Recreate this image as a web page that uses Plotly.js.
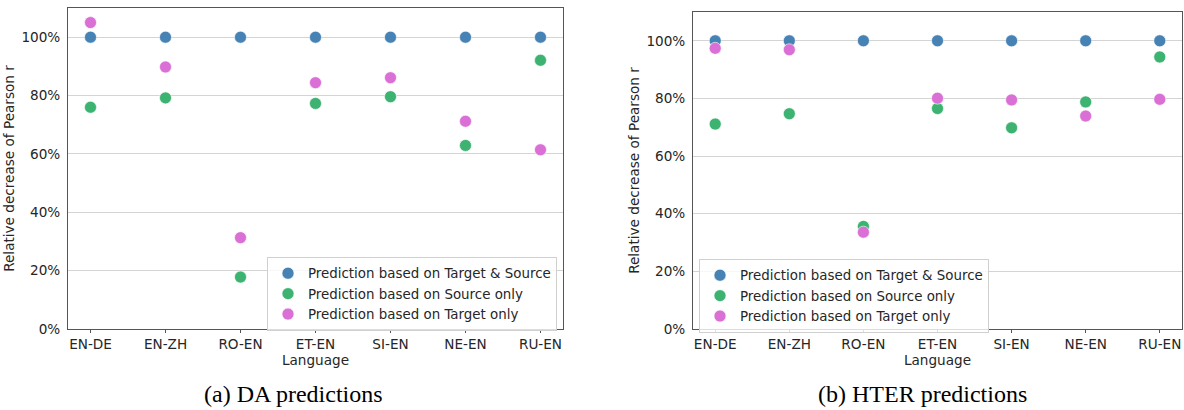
<!DOCTYPE html>
<html>
<head>
<meta charset="utf-8">
<script src="https://cdn.plot.ly/plotly-3.0.1.min.js"></script>
<style>html,body{margin:0;padding:0;background:#fff;}#chart{width:1184px;height:410px;}</style>
</head>
<body>
<div id="chart"></div>
<script>
const languages = ["EN-DE", "EN-ZH", "RO-EN", "ET-EN", "SI-EN", "NE-EN", "RU-EN"];
const seriesNames = ["Prediction based on Target & Source", "Prediction based on Source only", "Prediction based on Target only"];
const seriesColors = ["#4682b4", "#3cb371", "#da70d6"];

// (a) DA predictions
const daBoth = [100, 100, 100, 100, 100, 100, 100];
const daSource = [76.0, 79.2, 17.8, 77.3, 79.6, 62.9, 92.1];
const daTarget = [105.0, 89.8, 31.3, 84.4, 86.1, 71.2, 61.4];

// (b) HTER predictions
const hterBoth = [100, 100, 100, 100, 100, 100, 100];
const hterSource = [71.1, 74.7, 35.6, 76.5, 69.8, 78.8, 94.4];
const hterTarget = [97.4, 96.9, 33.6, 80.1, 79.5, 73.9, 79.7];

const yTickVals = [0, 20, 40, 60, 80, 100];
const yTickText = ["0%", "20%", "40%", "60%", "80%", "100%"];
const captions = ["(a) DA predictions", "(b) HTER predictions"];

function mk(vals, i, xa, ya, leg) {
  return {
    type: "scatter", mode: "markers", x: languages, y: vals,
    name: seriesNames[i], xaxis: xa, yaxis: ya, legend: leg,
    marker: {color: seriesColors[i], size: 12, line: {color: "#ffffff", width: 0.6}},
    hoverinfo: "skip"
  };
}

const traces = [
  mk(daBoth, 0, "x", "y", "legend"),
  mk(daSource, 1, "x", "y", "legend"),
  mk(daTarget, 2, "x", "y", "legend"),
  mk(hterBoth, 0, "x2", "y2", "legend2"),
  mk(hterSource, 1, "x2", "y2", "legend2"),
  mk(hterTarget, 2, "x2", "y2", "legend2")
];

const tickFont = {family: "DejaVu Sans", size: 13.6, color: "#262626"};
function xax(dom) {
  return {
    domain: dom, range: [-0.3, 6.3], type: "category", fixedrange: true,
    showline: true, mirror: true, linecolor: "#555", linewidth: 1,
    showgrid: false, ticks: "outside", ticklen: 3, tickcolor: "#555",
    tickfont: tickFont, zeroline: false,
    title: {text: "Language", font: tickFont, standoff: 0}
  };
}
function yax(dom, anchor) {
  return {
    domain: dom, range: [0, 110], anchor: anchor, fixedrange: true,
    tickvals: yTickVals, ticktext: yTickText, tickfont: tickFont,
    showline: true, mirror: true, linecolor: "#555", linewidth: 1,
    showgrid: true, gridcolor: "#d4d4d4", gridwidth: 1, zeroline: false,
    ticks: "", ticklabelstandoff: 4,
    title: {text: "Relative decrease of Pearson r", font: tickFont, standoff: 3}
  };
}

const legendCommon = {
  font: {family: "DejaVu Sans", size: 13.4, color: "#262626"},
  bgcolor: "rgba(255,255,255,0.8)", bordercolor: "#d0d0d0", borderwidth: 1,
  xanchor: "left", yanchor: "top", itemclick: false, itemdoubleclick: false,
  tracegroupgap: 0
};

const layout = {
  width: 1184, height: 410,
  margin: {l: 0, r: 0, t: 0, b: 0},
  paper_bgcolor: "#fff", plot_bgcolor: "#fff",
  font: {family: "DejaVu Sans", size: 13.6, color: "#262626"},
  xaxis: Object.assign(xax([68/1184, 563/1184]), {anchor: "y"}),
  yaxis: yax([81/410, 402/410], "x"),
  xaxis2: Object.assign(xax([693/1184, 1182/1184]), {anchor: "y2"}),
  yaxis2: yax([81/410, 398/410], "x2"),
  legend: Object.assign({x: 267/1184, y: 153/410}, legendCommon),
  legend2: Object.assign({x: 699/1184, y: 151/410}, legendCommon),
  showlegend: true,
  annotations: [
    {text: captions[0], xref: "paper", yref: "paper", x: 293/1184, y: 16/410, xanchor: "center", yanchor: "middle", showarrow: false, font: {family: "Liberation Serif", size: 24, color: "#000"}},
    {text: captions[1], xref: "paper", yref: "paper", x: 922/1184, y: 16/410, xanchor: "center", yanchor: "middle", showarrow: false, font: {family: "Liberation Serif", size: 24, color: "#000"}}
  ]
};

Plotly.newPlot("chart", traces, layout, {staticPlot: true, displayModeBar: false});
</script>
</body>
</html>
